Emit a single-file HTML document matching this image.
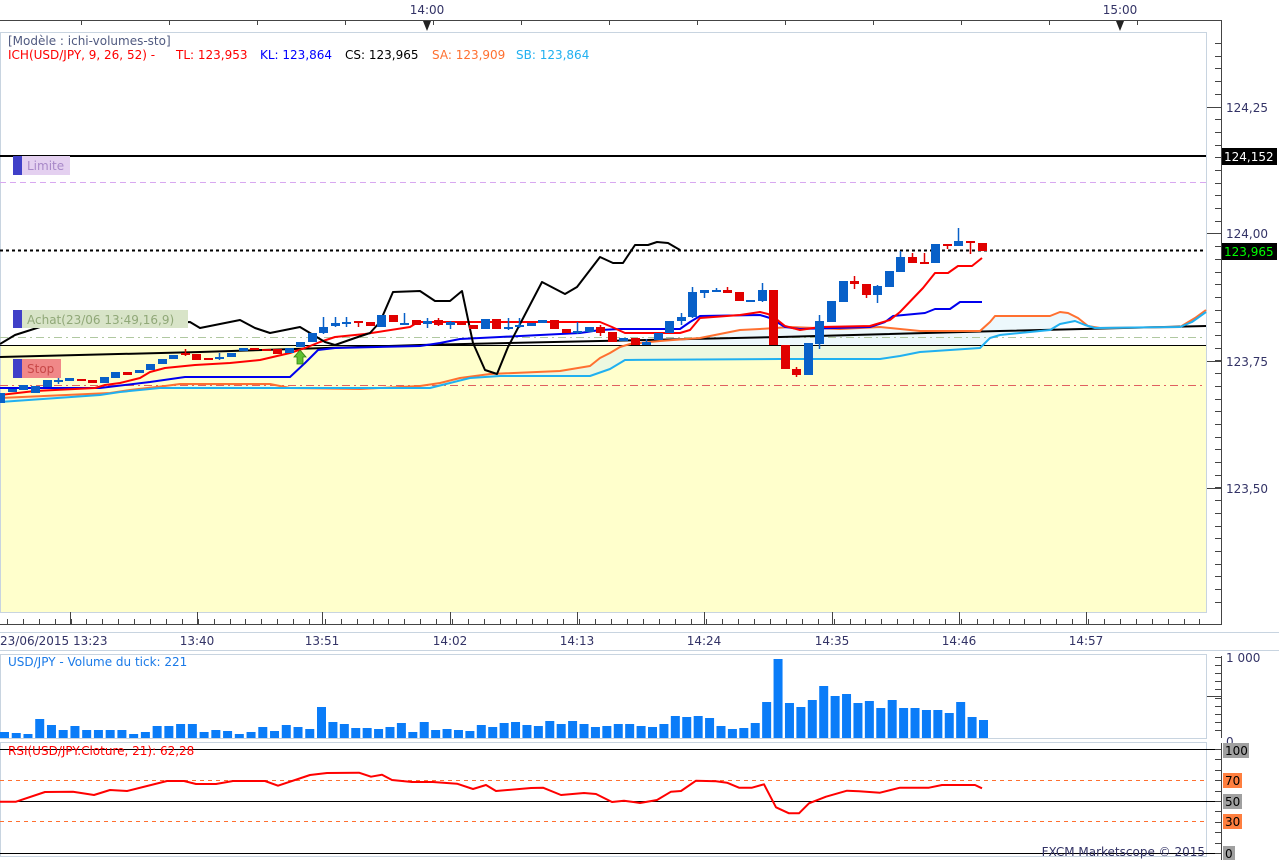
<!DOCTYPE html>
<html><head><meta charset="utf-8">
<style>
html,body{margin:0;padding:0;background:#fff;width:1279px;height:860px;overflow:hidden}
svg{display:block;font-family:"DejaVu Sans","Liberation Sans",sans-serif}
</style></head>
<body>
<svg id="c" width="1279" height="860" xmlns="http://www.w3.org/2000/svg"></svg>
<script>
var s='';
function L(x1,y1,x2,y2,c,w,d){s+='<line x1="'+x1+'" y1="'+y1+'" x2="'+x2+'" y2="'+y2+'" stroke="'+c+'" stroke-width="'+(w||1)+'"'+(d?' stroke-dasharray="'+d+'"':'')+'/>';}
function R(x,y,w,h,f,st){s+='<rect x="'+x+'" y="'+y+'" width="'+w+'" height="'+h+'" fill="'+f+'"'+(st?' stroke="'+st+'"':'')+'/>';}
function T(x,y,t,c,sz,a){s+='<text x="'+x+'" y="'+y+'" fill="'+c+'" font-size="'+(sz||12)+'"'+(a?' text-anchor="'+a+'"':'')+'>'+t+'</text>';}
function P(pts,c,w,f){s+='<polyline points="'+pts.map(function(p){return p.join(',')}).join(' ')+'" fill="'+(f||'none')+'" stroke="'+c+'" stroke-width="'+(w||2)+'" stroke-linejoin="round"/>';}
var AX='#333366';
// top axis
L(0,20.5,1222,20.5,'#444');
for(var x=81;x<1222;x+=88)L(x+.5,20,x+.5,25,'#444');
T(427,14,'14:00',AX,12,'middle');T(1120,14,'15:00',AX,12,'middle');
s+='<polygon points="423,21 431,21 427,31" fill="#222"/><polygon points="1116,21 1124,21 1120,31" fill="#222"/>';
// main panel
R(0,345,1206,267,'#ffffcc');
R(0.5,32.5,1206,580,'none','#c8d4e0');
var SA=[[0,398],[110,393],[130,390],[165,386],[180,384],[270,384],[290,388],[360,389],[400,387],[420,386],[440,383],[460,378],[490,374],[560,371],[590,366],[600,358],[610,353],[620,347],[630,344],[660,341],[700,338],[740,330],[760,329],[790,327],[840,329],[880,327],[920,331],[980,331],[990,322],[995,316],[1050,316],[1060,312],[1068,313],[1078,318],[1088,326],[1100,328],[1180,327],[1195,318],[1206,310]];
var SB=[[0,402],[100,395],[120,392],[160,388],[430,388],[450,383],[470,378],[500,376],[590,376],[610,369],[625,360],[780,359],[880,359],[900,356],[920,352],[980,348],[990,338],[1000,335],[1050,330],[1060,324],[1075,321],[1085,325],[1095,328],[1180,327],[1192,322],[1206,312]];
var poly=SA.concat(SB.slice().reverse());
s+='<polygon points="'+poly.map(function(p){return p.join(',')}).join(' ')+'" fill="#d8f0f8" fill-opacity="0.45"/>';
L(0,156,1206,156,'#000',2);
L(0,182.5,1206,182.5,'#d8a8f0',1,'6,4');
L(0,250.5,1206,250.5,'#000',2,'3,3');
L(0,337.5,1206,337.5,'#b0c8a0',1,'8,4,2,4');
L(0,345.5,1206,345.5,'#000',1);
L(0,385.5,1206,385.5,'#e06060',1,'8,4,2,4');
P([[0,357],[200,352],[420,345],[600,341],[780,337],[1000,331],[1206,326]],'#000',2);
P(SA,'#ff7030',2);P(SB,'#20b0f0',2);
P([[0,388],[100,388],[150,382],[185,377],[290,377],[305,363],[318,350],[335,348],[420,346],[440,343],[460,339],[500,337],[580,333],[600,330],[620,329],[680,329],[690,322],[700,316],[760,315],[770,318],[785,327],[800,329],[870,327],[885,322],[893,316],[925,313],[935,309],[950,309],[960,302],[982,302]],'#0000ee',2);
P([[0,395],[35,391],[95,388],[105,385],[120,383],[140,378],[150,372],[165,368],[195,365],[230,363],[260,360],[290,353],[305,348],[320,342],[335,337],[365,334],[410,327],[418,322],[600,322],[612,327],[625,333],[680,333],[690,330],[700,318],[740,315],[760,312],[768,314],[775,318],[785,326],[800,330],[820,327],[870,326],[890,320],[900,312],[923,288],[935,273],[948,273],[958,266],[972,266],[982,258]],'#ff0000',2);
P([[0,344],[15,335],[40,327],[190,322],[200,328],[240,320],[255,328],[270,333],[285,330],[300,327],[310,333],[325,342],[335,345],[355,338],[370,333],[380,322],[393,292],[420,291],[435,301],[450,301],[462,291],[473,343],[485,370],[497,374],[508,347],[542,282],[565,294],[577,287],[600,257],[613,263],[623,263],[635,245],[648,245],[657,242],[668,243],[680,250]],'#000',2);
var C=[[0,1,393,403],[12,1,389,392],[23,1,385,390],[35,1,386,393],[47,1,380,387],[58,1,380,381,376,384],[69,1,378,381],[81,0,379,381],[92,0,380,383],[104,1,377,383],[115,1,372,378],[127,0,372,375],[139,1,370,373],[150,1,364,370],[162,1,359,364],[173,1,355,359],[185,0,353,354,349,356],[196,0,354,360],[208,0,358,359],[219,1,357,359,353,360],[231,1,353,357],[243,1,348,351],[254,0,348,350],[266,0,349,351],[277,0,349,354],[289,1,348,353],[300,1,342,347],[312,1,333,342],[323,1,327,333,317,334],[335,1,323,326,317,327],[346,1,322,323,317,327],[358,0,321,323,321,327],[370,0,322,326],[381,1,315,327],[393,0,315,322],[404,1,323,324,313,325],[416,0,320,325],[427,1,321,324,318,328],[438,0,320,325,318,326],[450,1,322,325,321,329],[461,0,322,325],[473,0,325,329],[485,1,319,329],[496,0,319,329],[508,1,327,329,318,330],[519,1,325,327,318,328],[531,1,323,326],[542,1,320,323],[554,0,320,329],[566,0,329,333],[577,1,331,333,322,334],[589,1,327,332],[600,0,327,333,325,336],[612,0,332,342],[623,1,338,341],[635,0,338,345],[646,1,342,345,339,345],[658,1,333,340],[669,1,321,333],[681,1,317,321,313,325],[692,1,292,317,287,318],[704,1,290,293,290,298],[716,1,290,291,288,292],[727,0,290,293,287,293],[739,0,292,301],[750,1,300,302],[762,1,290,301,283,302],[773,0,290,345],[785,0,345,369],[796,0,369,375,367,377],[808,1,343,375],[819,1,321,344,315,349],[831,1,301,322],[843,1,281,302],[854,0,281,284,276,289],[866,0,284,295,284,298],[877,1,286,295,285,303],[889,1,271,287],[900,1,257,272,251,272],[912,0,257,263,253,263],[924,0,262,263,253,263],[935,1,244,263],[947,0,244,246,244,249],[958,1,241,246,228,246],[970,0,241,243,241,254],[982,0,243,251]];
C.forEach(function(c){var col=c[1]?'#0860c8':'#e00000';var wt=c.length>4?c[4]:c[2],wb=c.length>4?c[5]:c[3];
L(c[0]+.5,wt,c[0]+.5,wb,col,1.5);var h=Math.max(c[3]-c[2],2);R(c[0]-4,c[2],9,h,col);});
R(13,156,9,19,'#4040c8');R(22,156,48,19,'#e4d0f0');T(27,170,'Limite','#a888c8',12);
R(13,310,9,18,'#4040c8');R(22,310,166,18,'#d8e4c8');T(27,324,'Achat(23/06 13:49,16,9)','#90a878',12);
R(13,359,9,19,'#4040c8');R(22,359,39,19,'#f08888');T(27,373,'Stop','#c84848',12);
s+='<polygon points="300,350 294,357 297,357 297,364 303,364 303,357 306,357" fill="#60c030" stroke="#308010" stroke-width="0.8"/>';
T(8,45,'[Modèle : ichi-volumes-sto]','#505a80',12);
s+='<text y="59" font-size="12"><tspan x="8" fill="#ff0000">ICH(USD/JPY, 9, 26, 52) -</tspan><tspan x="176" fill="#ff0000">TL: 123,953</tspan><tspan x="260" fill="#0000ff">KL: 123,864</tspan><tspan x="345" fill="#000">CS: 123,965</tspan><tspan x="432" fill="#ff7030">SA: 123,909</tspan><tspan x="516" fill="#20b0f0">SB: 123,864</tspan></text>';
L(1221.5,20,1221.5,625,'#444');
for(var y=43;y<612;y+=12.7){L(1215,Math.round(y)+.5,1221,Math.round(y)+.5,'#444');}
[107,233,361,488].forEach(function(y){L(1207,y+.5,1221,y+.5,'#444')});
T(1226,112,'124,25',AX);T(1226,238,'124,00',AX);T(1226,366,'123,75',AX);T(1226,493,'123,50',AX);
R(1222,148,55,17,'#000');T(1224,161,'124,152','#fff',12);
R(1222,243,55,17,'#000');T(1224,256,'123,965','#00ff00',12);
L(0,624.5,1222,624.5,'#444');
var maj=[70,197,322,450,577,704,832,959,1086];
for(var x=-9;x<1206;x+=15.9){L(Math.round(x)+.5,619,Math.round(x)+.5,624,'#444');}
maj.forEach(function(x){L(x+.5,612,x+.5,624,'#444')});
T(0,645,'23/06/2015 13:23',AX);
['13:40','13:51','14:02','14:13','14:24','14:35','14:46','14:57'].forEach(function(t,i){T(maj[i+1],645,t,AX,12,'middle')});
L(0,632.5,1279,632.5,'#c8d4e0');L(0,650.5,1279,650.5,'#c8d4e0');
R(0.5,654.5,1206,84,'none','#c8d4e0');
T(8,666,'USD/JPY - Volume du tick: 221','#1a7ae8',12);
var V=[6,5,4,19,13,8,12,8,8,8,8,4,6,12,12,14,14,6,8,7,4,6,11,7,13,11,9,31,16,14,10,10,9,11,15,6,16,8,9,8,7,13,11,15,16,13,12,17,14,17,14,11,12,14,14,12,11,14,22,21,22,20,12,9,10,15,36,79,35,31,38,52,42,44,35,37,30,38,30,30,28,28,25,36,21,18];
V.forEach(function(v,i){var x=i<28?4+i*(317/27):321+(i-27)*(662/58);R(x-4,738-v,9,v,'#0a7cf8');});
L(1221.5,656,1221.5,738,'#444');
for(var y=657;y<738;y+=8.1){L(1215,Math.round(y)+.5,1221,Math.round(y)+.5,'#444');}
L(1207,696.5,1221,696.5,'#444');
T(1226,662,'1 000',AX);T(1226,746,'0',AX);
R(0.5,742.5,1206,114,'none','#c8d4e0');
L(0,749.5,1222,749.5,'#000');L(0,801.5,1222,801.5,'#000');L(0,853.5,1222,853.5,'#000');
L(0,780.5,1206,780.5,'#ff7030',1,'4,4');L(0,821.5,1206,821.5,'#ff7030',1,'4,4');
T(8,755,'RSI(USD/JPY.Cloture, 21): 62,28','#ff0000',12);
P([[0,801.7],[16,801.7],[45,792],[73,791.7],[94,795],[110,790],[127,791],[167,781],[184,781],[196,784],[216,784],[233,781],[265,781],[278,785.7],[310,775],[327,773],[359,772.7],[371,776.7],[382,774.7],[392,780],[412,782],[433,782],[457,783.7],[473,789],[486,785],[496,791],[531,788],[543,787.7],[561,795],[584,793],[596,794],[612,802],[624,800.7],[640,803],[657,800],[671,791.7],[681,791],[696,780.7],[716,781.3],[727,782.7],[739,787.7],[752,787.7],[764,784.3],[776,807.3],[789,813.3],[799,813.3],[809,803.3],[826,796.7],[847,790.7],[859,791.3],[880,792.7],[900,787.7],[929,787.7],[942,785],[975,785],[982,788.3]],'#ff0000',2);
L(1221.5,743,1221.5,860,'#444');
for(var y=749;y<858;y+=10.4){L(1215,Math.round(y)+.5,1221,Math.round(y)+.5,'#444');}
R(1223,743,26,15,'#a0a0a0');T(1225,755,'100','#000');
R(1223,773,19,15,'#ff7f3f');T(1225,785,'70','#000');
R(1223,794,19,15,'#a0a0a0');T(1225,806,'50','#000');
R(1223,814,19,15,'#ff7f3f');T(1225,826,'30','#000');
R(1223,846,12,14,'#a0a0a0');T(1225,858,'0','#000');
T(1205,856,'FXCM Marketscope © 2015',AX,12,'end');
document.getElementById('c').innerHTML=s;
</script>
</body></html>
